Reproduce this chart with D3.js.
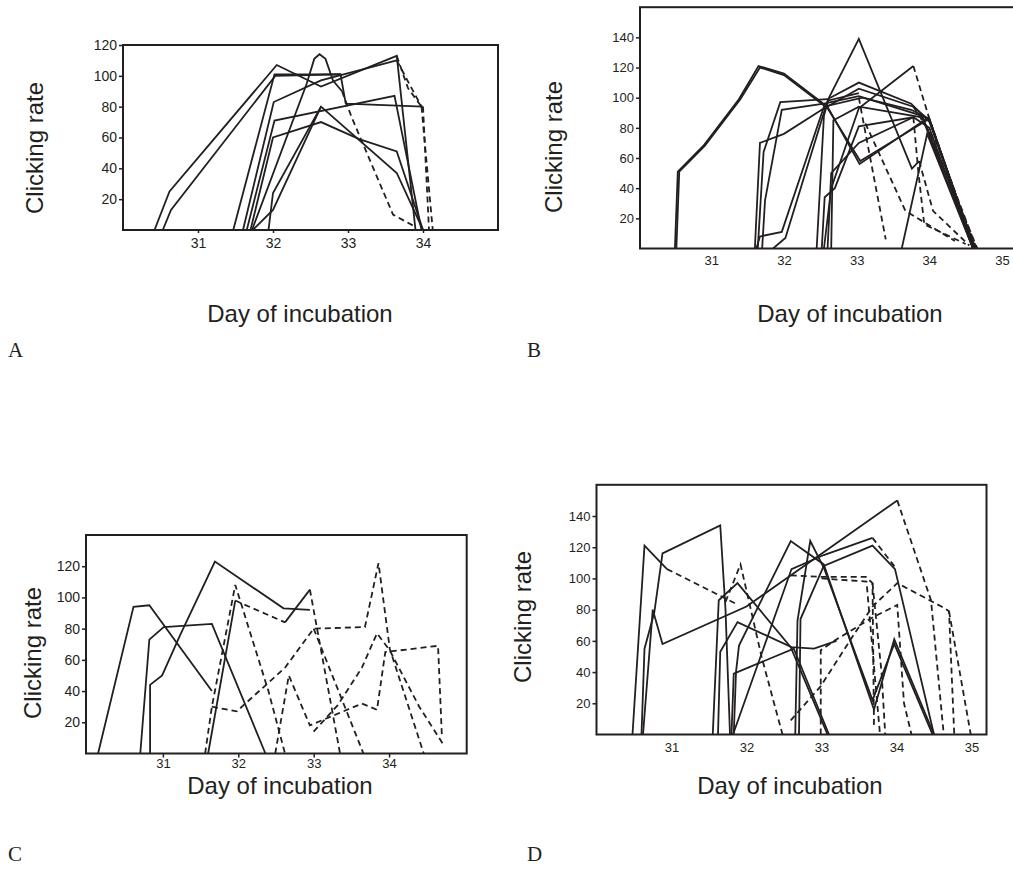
<!DOCTYPE html>
<html>
<head>
<meta charset="utf-8">
<script src="https://cdn.jsdelivr.net/npm/d3@7"></script>
<style>
  body { margin: 0; background: #fff; }
  svg { display: block; }
  text { fill: #231f20; }
</style>
</head>
<body>
<svg id="fig" width="1013" height="884"></svg>
<script>
// Clicking rate of individual eggs by day of incubation.
// Each series is a list of [day, clicks] points. "recorded" runs are solid,
// "interpolated" runs (gaps in the recordings) are dashed.

// ---- Panel A ----
const aRecorded = [
  [[30.42,0],[30.62,25],[32.05,107],[32.64,93],[33.65,113],[33.9,0]],
  [[30.53,0],[30.64,13],[32.03,100],[32.9,101],[32.97,82],[34.0,80]],
  [[31.47,0],[32.02,101],[32.9,101]],
  [[31.72,0],[32.45,95],[32.55,111],[32.62,114],[32.7,111],[32.8,97],[32.92,90]],
  [[31.6,0],[32.01,83],[32.64,97],[33.65,110]],
  [[31.65,0],[32.02,71],[33.62,87],[33.98,0]],
  [[31.7,0],[32.0,60],[32.64,70],[33.15,59],[33.65,51],[34.0,0]],
  [[31.94,0],[32.0,24],[32.64,80],[33.65,37],[34.0,0]],
  [[31.73,0],[32.0,13],[32.64,80]]
];
const aInterpolated = [
  [[32.92,90],[33.05,73],[33.6,10],[33.9,2]],
  [[33.65,110],[33.98,80]],
  [[34.0,80],[34.08,0]],
  [[33.98,80],[34.13,0]],
  [[33.65,113],[33.8,92],[33.98,80]]
];

// ---- Panel B ----
const bRecorded = [
  [[30.5,0],[30.54,51],[30.89,68],[31.38,99],[31.65,121],[32.0,116],[32.6,94],[33.04,56],[33.99,87],[34.6,0]],
  [[30.52,0],[30.56,51],[30.91,68],[31.4,99],[31.67,120],[32.0,115],[32.6,93],[33.05,58],[34.0,86],[34.62,0]],
  [[31.6,0],[31.67,70],[32.0,76],[32.52,92],[33.03,106],[33.78,94],[34.0,85],[34.62,0]],
  [[31.64,0],[31.72,64],[31.95,97],[32.6,99],[33.03,110],[33.75,96],[34.0,84],[34.63,0]],
  [[31.7,0],[31.74,32],[31.97,92],[32.55,96],[33.03,101],[33.9,88],[34.64,0]],
  [[31.62,0],[31.67,8],[31.97,11],[32.55,94],[33.08,100],[33.75,92],[34.0,86],[34.62,0]],
  [[31.85,0],[32.02,7],[32.6,98],[33.03,103]],
  [[32.52,0],[32.56,34],[32.7,40],[33.03,81],[33.78,87],[34.0,80],[34.6,0]],
  [[32.6,0],[32.65,50],[33.03,70],[33.78,87]],
  [[32.65,0],[32.68,85],[33.03,94],[33.9,87],[34.6,0]],
  [[32.55,0],[32.65,40],[33.03,93],[33.78,121]],
  [[32.45,0],[32.55,88],[32.62,100],[33.03,139],[33.76,53],[33.86,58]],
  [[33.62,0],[33.97,76],[34.6,0]]
];
const bInterpolated = [
  [[33.78,121],[34.0,86],[34.62,0]],
  [[33.03,100],[33.1,82],[33.4,6]],
  [[33.12,83],[33.67,25],[34.35,5]],
  [[33.78,87],[33.85,50],[33.93,16],[34.5,3]],
  [[33.86,58],[34.05,25],[34.55,2]],
  [[33.9,88],[34.66,0]],
  [[33.78,94],[34.1,70],[34.65,0]]
];

// ---- Panel C ----
const cRecorded = [
  [[30.14,0],[30.61,94],[30.82,95],[31.65,40]],
  [[30.83,0],[30.83,44],[30.99,50],[31.23,76],[31.69,123],[32.6,93],[32.95,92]],
  [[30.7,0],[30.82,73],[31.01,81],[31.65,83],[32.36,0]],
  [[31.6,0],[31.96,98]],
  [[32.62,84],[32.95,105]]
];
const cInterpolated = [
  [[31.96,98],[32.62,84]],
  [[32.95,105],[33.35,0]],
  [[31.56,0],[31.65,30],[31.96,108],[32.4,40],[32.62,0]],
  [[31.65,30],[31.98,27],[32.62,55],[33.0,80],[33.68,81],[33.86,122],[34.01,67],[34.46,0]],
  [[32.49,0],[32.67,50],[32.95,18],[33.64,32],[33.84,28],[33.95,65],[34.65,69],[34.7,12]],
  [[33.0,14],[33.32,31],[33.64,55],[33.84,77],[34.01,66],[34.4,30],[34.73,5]],
  [[33.0,80],[33.66,0]]
];

// ---- Panel D ----
const dRecorded = [
  [[30.48,0],[30.64,121],[30.94,106]],
  [[30.6,0],[30.64,55],[30.77,78],[30.88,116],[31.65,134],[31.72,80],[31.78,0]],
  [[30.62,0],[30.75,80],[30.88,58],[32.0,82],[34.01,150]],
  [[31.55,0],[31.63,86],[31.88,97],[32.59,56],[33.08,0]],
  [[31.62,0],[31.65,53],[31.88,72],[32.6,56],[32.9,55],[33.2,60]],
  [[31.83,0],[31.86,40],[31.9,57],[32.59,124],[33.03,109],[33.7,16],[33.97,61],[34.5,0]],
  [[32.65,0],[32.68,73],[32.85,124],[33.03,107],[33.68,22],[33.97,58],[34.48,0]],
  [[31.82,0],[32.6,106],[33.03,115],[33.68,126]],
  [[32.7,0],[32.72,74],[33.03,108],[33.68,121],[33.98,106],[34.5,0]],
  [[31.8,0],[31.83,39],[32.63,55],[33.1,0]]
];
const dInterpolated = [
  [[30.94,106],[31.85,84]],
  [[31.72,85],[31.92,109],[32.2,50],[32.48,0]],
  [[32.59,102],[33.0,101],[33.59,101],[33.68,97],[33.7,5]],
  [[33.0,100],[33.6,98],[33.78,0]],
  [[32.59,9],[32.99,31],[33.39,61],[33.68,82],[34.01,97],[34.6,82],[34.7,79],[34.77,0]],
  [[32.99,0],[32.99,54],[33.17,60],[33.68,75],[34.01,83],[34.1,20],[34.2,0]],
  [[34.01,150],[34.46,86],[34.63,0]],
  [[34.7,79],[34.99,0]],
  [[33.68,126],[34.0,106]],
  [[33.68,97],[33.8,40],[33.85,0]]
];

// ---- Tick labels ----
const aDays = [31, 32, 33, 34];
const bDays = [31, 32, 33, 34, 35];
const cDays = [31, 32, 33, 34];
const dDays = [31, 32, 33, 34, 35];
const aRates = [20, 40, 60, 80, 100, 120];
const bRates = [20, 40, 60, 80, 100, 120, 140];
const cRates = [20, 40, 60, 80, 100, 120];
const dRates = [20, 40, 60, 80, 100, 120, 140];

const panelLetters = ["A", "B", "C", "D"];
const yTitle = "Clicking rate";
const xTitle = "Day of incubation";

// ---- Drawing ----
const INK = "#231f20";
const svg = d3.select("#fig");

const layouts = [
  { id: "A", rec: aRecorded, itp: aInterpolated, days: aDays, rates: aRates,
    xd: [30, 35], xr: [123, 498], yd: [0, 120], yr: [230, 45],
    xTick: 3, xFont: 14, xLabelY: 248, yFont: 14,
    yTitle: [34, 148], xTitle: [300, 322], letter: [8, 357] },
  { id: "B", rec: bRecorded, itp: bInterpolated, days: bDays, rates: bRates,
    xd: [30.02, 35.2], xr: [640, 1016.6], yd: [0, 160], yr: [248.5, 7.2],
    xTick: 0, xFont: 13, xLabelY: 265, yFont: 13,
    yTitle: [553, 147], xTitle: [850, 322], letter: [527, 357] },
  { id: "C", rec: cRecorded, itp: cInterpolated, days: cDays, rates: cRates,
    xd: [29.98, 35.03], xr: [86, 466.7], yd: [0, 140], yr: [753.5, 535],
    xTick: 4, xFont: 13, xLabelY: 768, yFont: 14,
    yTitle: [32, 653], xTitle: [280, 794], letter: [8, 861] },
  { id: "D", rec: dRecorded, itp: dInterpolated, days: dDays, rates: dRates,
    xd: [30, 35.2], xr: [596.5, 986.5], yd: [0, 160], yr: [734.5, 484.8],
    xTick: 0, xFont: 13, xLabelY: 752, yFont: 13,
    yTitle: [522, 617], xTitle: [790, 794], letter: [527, 861] }
];

const intFmt = d3.format("d");

layouts.forEach((p, i) => {
  const x = d3.scaleLinear().domain(p.xd).range(p.xr);
  const y = d3.scaleLinear().domain(p.yd).range(p.yr);
  const g = svg.append("g");
  const x0 = p.xr[0], x1 = p.xr[1], y0 = p.yr[1], y1 = p.yr[0];

  g.append("clipPath").attr("id", "clip" + p.id)
    .append("rect").attr("x", x0).attr("y", y0).attr("width", x1 - x0).attr("height", y1 - y0);

  const line = d3.line().x(d => x(d[0])).y(d => y(d[1]));
  const plot = g.append("g").attr("clip-path", `url(#clip${p.id})`);

  plot.selectAll("path.rec").data(p.rec).join("path")
    .attr("class", "rec").attr("d", line)
    .attr("fill", "none").attr("stroke", INK).attr("stroke-width", 1.8)
    .attr("stroke-linejoin", "miter");

  plot.selectAll("path.itp").data(p.itp).join("path")
    .attr("class", "itp").attr("d", line)
    .attr("fill", "none").attr("stroke", INK).attr("stroke-width", 1.8)
    .attr("stroke-dasharray", "6,4");

  // frame
  g.append("rect").attr("x", x0).attr("y", y0).attr("width", x1 - x0).attr("height", y1 - y0)
    .attr("fill", "none").attr("stroke", INK).attr("stroke-width", 2);

  // y axis
  const yAxis = d3.axisLeft(y).tickValues(p.rates).tickFormat(intFmt).tickSize(4).tickPadding(2);
  const ya = g.append("g").attr("transform", `translate(${x0},0)`).call(yAxis);
  ya.select(".domain").remove();
  ya.selectAll("line").attr("stroke", INK).attr("stroke-width", 1.5);
  ya.selectAll("text").attr("font-family", "Liberation Sans, Arial, sans-serif")
    .attr("font-size", p.yFont).attr("fill", INK);

  // x axis
  const xAxis = d3.axisBottom(x).tickValues(p.days).tickFormat(intFmt).tickSize(p.xTick).tickPadding(0);
  const xa = g.append("g").attr("transform", `translate(0,${y1})`).call(xAxis);
  xa.select(".domain").remove();
  xa.selectAll("line").attr("stroke", INK).attr("stroke-width", 1.5);
  xa.selectAll("text").attr("font-family", "Liberation Sans, Arial, sans-serif")
    .attr("font-size", p.xFont).attr("fill", INK)
    .attr("dy", null).attr("y", p.xLabelY - y1);

  // titles
  g.append("text")
    .attr("transform", `translate(${p.yTitle[0]},${p.yTitle[1]}) rotate(-90)`)
    .attr("text-anchor", "middle").attr("dominant-baseline", "central")
    .attr("font-family", "Liberation Sans, Arial, sans-serif").attr("font-size", 24)
    .text(yTitle);
  g.append("text")
    .attr("x", p.xTitle[0]).attr("y", p.xTitle[1])
    .attr("text-anchor", "middle")
    .attr("font-family", "Liberation Sans, Arial, sans-serif").attr("font-size", 24)
    .text(xTitle);
  g.append("text")
    .attr("x", p.letter[0]).attr("y", p.letter[1])
    .attr("font-family", "Liberation Serif, Times New Roman, serif").attr("font-size", 21)
    .text(panelLetters[i]);
});
</script>
</body>
</html>
